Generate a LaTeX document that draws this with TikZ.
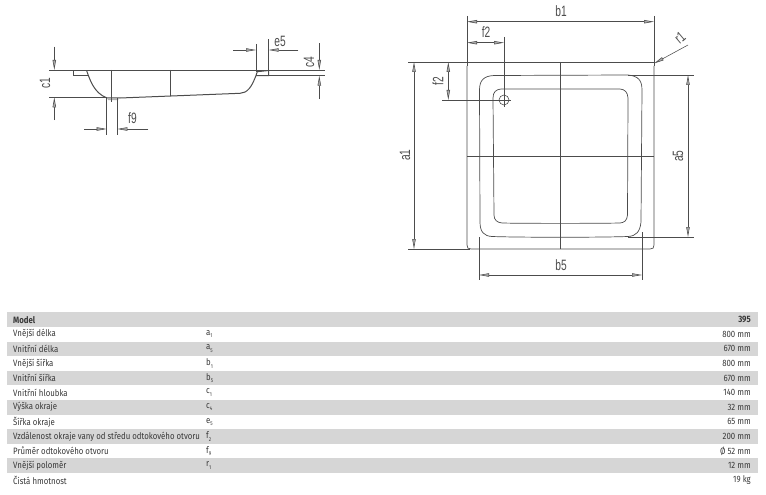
\documentclass[tikz,border=0pt]{standalone}
\usepackage{fontspec}
\usetikzlibrary{arrows.meta}
\setmainfont{Fira Sans}[FakeStretch=0.85]
\newfontfamily\lab{Liberation Sans}[FakeStretch=0.68]
\definecolor{ink}{gray}{0.3}
\definecolor{rowgrey}{gray}{0.84}
\definecolor{txt}{gray}{0.22}
\tikzset{
  x=1pt,y=-1pt,
  part/.style={draw=ink,line width=0.7pt},
  thin part/.style={draw=ink,line width=0.6pt},
  dimline/.style={draw=ink,line width=0.55pt},
  dimtip/.style={-{Stealth[length=10pt,width=3.4pt,inset=0pt,fill=gray!65]}},
  dimboth/.style={{Stealth[length=10pt,width=3.4pt,inset=0pt,fill=gray!65]}-{Stealth[length=10pt,width=3.4pt,inset=0pt,fill=gray!65]}},
  dimlabel/.style={font=\lab\fontsize{15}{16}\selectfont,text=ink,inner sep=0pt},
  rowtext/.style={anchor=west,inner sep=0pt,text=txt,font=\fontsize{9.2}{10}\selectfont},
  rowsym/.style={anchor=west,inner sep=0pt,text=txt,font=\fontsize{9.2}{10}\selectfont},
  rowval/.style={anchor=east,inner sep=0pt,text=txt,font=\fontsize{9.2}{10}\selectfont},
}
\newcommand{\symb}[2]{#1\raisebox{-2.5pt}{\fontsize{5.5}{6}\selectfont #2}}
\begin{document}
\begin{tikzpicture}
\useasboundingbox (0,0) rectangle (766,495);
% ---- side section ----
\draw[part] (86.7,70.3) -- (73.3,70.3) -- (73.3,75.7) -- (88.5,75.7);
\draw[part,line width=1pt] (86.7,70.8) .. controls (90,80) and (94,93) .. (106.7,97.8)
  -- (120,98) -- (240,93.3) .. controls (247,93) and (252,88) .. (257.3,71.7)
  -- (268.7,70.5) -- (268.7,75.7) -- (255.5,75.7);
\fill[gray!60] (107,98) -- (119,98) -- (118,100) -- (108,100) -- cycle;
\draw[thin part] (49,70) -- (325,70);
\draw[thin part] (49,97.3) -- (107,97.3);
\draw[thin part] (268.7,75.7) -- (325,75.7);
\draw[thin part] (111.7,70) -- (111.7,101.7);
\draw[thin part] (170.7,70) -- (170.7,95.7);
% c1
\draw[dimline,dimtip] (54.3,46.7) -- (54.3,70);
\draw[dimline,dimtip] (54.3,120) -- (54.3,97.3);
\node[dimlabel,rotate=90] (c1) at (45,83.5) {c1};
% c4
\draw[dimline,dimtip] (319.3,43.3) -- (319.3,70);
\draw[dimline,dimtip] (319.3,99) -- (319.3,75.7);
\node[dimlabel,rotate=90] (c4) at (309,62.5) {c4};
% e5
\draw[dimline] (256,44) -- (256,71.7) (268.7,39.3) -- (268.7,70);
\draw[dimline,dimtip] (233.3,50) -- (256,50);
\draw[dimline,dimtip] (298.3,50) -- (268.7,50);
\node[dimlabel] (e5) at (280,41) {e5};
% f9
\draw[dimline] (106.7,98) -- (106.7,135) (117.3,98) -- (117.3,135);
\draw[dimline,dimtip] (84,129) -- (106.7,129);
\draw[dimline,dimtip] (148.3,129) -- (117.3,129);
\node[dimlabel] (f9) at (132.5,118) {f9};
% ---- plan ----
\draw[part] (467,66) -- (467,245) .. controls (467,248) and (468,249) .. (471,249) -- (650,249)
  .. controls (653,249) and (654,248) .. (654,245) -- (654,66);
\draw[thin part] (408,62) -- (654,62);
\draw[thin part] (408,249) -- (470,249);
\draw[thin part] (467,16) -- (467,66) (654,16) -- (654,66);
\draw[part] (479.5,90) .. controls (479.5,80) and (484,76) .. (494,75.5) -- (628,75)
  .. controls (638,76) and (642,80) .. (642,90) -- (641,222)
  .. controls (640,232) and (636,236) .. (628,236.5)
  .. controls (600,237.5) and (520,237.5) .. (492,236.5)
  .. controls (484,236) and (480,232) .. (480,222) -- cycle;
\draw[part] (493,98) .. controls (493,92) and (496,89.5) .. (501,89) -- (620,89)
  .. controls (625,89.5) and (627.5,92) .. (628,98) -- (627.5,215)
  .. controls (627,221) and (624,222.5) .. (620,223)
  .. controls (600,223.5) and (520,223.5) .. (502,223)
  .. controls (497,222.5) and (494,220) .. (494,215) -- cycle;
\draw[thin part] (560,62) -- (560,249);
\draw[thin part] (467,156) -- (654,156);
\draw[thin part] (628,75) -- (693.5,75);
\draw[thin part] (628,237) -- (694,237);
% hole
\draw[thin part] (504,100) circle (5);
\draw[thin part] (442,100) -- (511,100);
\draw[thin part] (504,37) -- (504,107);
% b1
\draw[dimline,dimboth] (467,21.7) -- (654,21.7);
\node[dimlabel] (b1) at (561,11) {b1};
% f2 top
\draw[dimline,dimboth] (467,42.7) -- (504,42.7);
\node[dimlabel] (f2a) at (486,32) {f2};
% f2 left
\draw[dimline,dimboth] (448.3,62) -- (448.3,100);
\node[dimlabel,rotate=90] (f2b) at (438,81) {f2};
% a1
\draw[dimline,dimboth] (414,62) -- (414,249);
\node[dimlabel,rotate=90] (a1) at (405,155) {a1};
% a5
\draw[dimline,dimboth] (688,75) -- (688,237);
\node[dimlabel,rotate=90] (a5) at (678,156) {a5};
% b5
\draw[dimline] (479,237) -- (479,279.5) (642,232) -- (642,279.5);
\draw[dimline,dimboth] (479,275) -- (642,275);
\node[dimlabel] (b5) at (561,265) {b5};
% r1
\draw[dimline,dimtip] (688,45) -- (654,63.5);
\node[dimlabel,rotate=40] (r1) at (680,37.5) {r1};
% ---- table ----
\fill[rowgrey] (7,312.3) rectangle (758,327);
\foreach \i in {2,4,6,8,10}
  \fill[rowgrey] (7,{312.3+14.6*\i}) rectangle (758,{312.3+14.6*(\i+1)});
\node[rowtext,font=\fontsize{9.2}{10}\selectfont\bfseries] (m) at (13,319.6) {Model};
\node[rowval,font=\fontsize{9.2}{10}\selectfont\bfseries] (mv) at (751,319.6) {395};
\node[rowtext] (t1) at (13,334.2) {Vnější délka};
\node[rowtext] (t2) at (13,348.8) {Vnitřní délka};
\node[rowtext] (t3) at (13,363.4) {Vnější šířka};
\node[rowtext] (t4) at (13,378) {Vnitřní šířka};
\node[rowtext] (t5) at (13,392.6) {Vnitřní hloubka};
\node[rowtext] (t6) at (13,407.2) {Výška okraje};
\node[rowtext] (t7) at (13,421.8) {Šířka okraje};
\node[rowtext] (t8) at (13,436.4) {Vzdálenost okraje vany od středu odtokového otvoru};
\node[rowtext] (t9) at (13,451) {Průměr odtokového otvoru};
\node[rowtext] (t10) at (13,465.6) {Vnější poloměr};
\node[rowtext] (t11) at (13,480.2) {Čistá hmotnost};
\node[rowsym] (s1) at (206,334.2) {\symb{a}{1}};
\node[rowsym] (s2) at (206,348.8) {\symb{a}{5}};
\node[rowsym] (s3) at (206,363.4) {\symb{b}{1}};
\node[rowsym] (s4) at (206,378) {\symb{b}{5}};
\node[rowsym] (s5) at (206,392.6) {\symb{c}{1}};
\node[rowsym] (s6) at (206,407.2) {\symb{c}{4}};
\node[rowsym] (s7) at (206,421.8) {\symb{e}{5}};
\node[rowsym] (s8) at (206,436.4) {\symb{f}{2}};
\node[rowsym] (s9) at (206,451) {\symb{f}{9}};
\node[rowsym] (s10) at (206,465.6) {\symb{r}{1}};
\node[rowval] (v1) at (751,334.2) {800 mm};
\node[rowval] (v2) at (751,348.8) {670 mm};
\node[rowval] (v3) at (751,363.4) {800 mm};
\node[rowval] (v4) at (751,378) {670 mm};
\node[rowval] (v5) at (751,392.6) {140 mm};
\node[rowval] (v6) at (751,407.2) {32 mm};
\node[rowval] (v7) at (751,421.8) {65 mm};
\node[rowval] (v8) at (751,436.4) {200 mm};
\node[rowval] (v9) at (751,451) {Ø 52 mm};
\node[rowval] (v10) at (751,465.6) {12 mm};
\node[rowval] (v11) at (751,480.2) {19 kg};
\end{tikzpicture}
\end{document}
